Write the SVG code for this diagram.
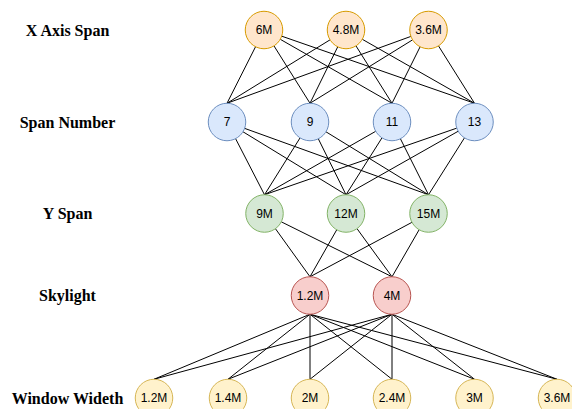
<svg xmlns="http://www.w3.org/2000/svg" width="572" height="409" viewBox="0 0 572 409">
<style>
.lbl{font-family:"Liberation Serif","Times New Roman",serif;font-weight:bold;font-size:16px;text-anchor:middle;fill:#000}
.nt{font-family:"Liberation Sans",Arial,Helvetica,sans-serif;font-size:12px;text-anchor:middle;fill:#000}
.or{fill:#ffe6cc;stroke:#d79b00}
.bl{fill:#dae8fc;stroke:#6c8ebf}
.gr{fill:#d5e8d4;stroke:#82b366}
.rd{fill:#f8cecc;stroke:#b85450}
.ye{fill:#fff2cc;stroke:#d6b656}
circle{stroke-width:1}
#edges line{stroke:#000;stroke-width:1}
</style>
<rect width="572" height="409" fill="#fff"/>
<g id="labels">
<text class="lbl" x="67.5" y="35.5">X Axis Span</text>
<text class="lbl" x="67.5" y="127.5">Span Number</text>
<text class="lbl" x="67.5" y="219">Y Span</text>
<text class="lbl" x="67.5" y="301">Skylight</text>
<text class="lbl" x="67.5" y="403.5">Window Wideth</text>
</g>
<g id="edges">
<line x1="255.55" y1="46.74" x2="227" y2="103.25"/>
<line x1="273.97" y1="45.88" x2="310" y2="103.25"/>
<line x1="280.27" y1="39.31" x2="392" y2="103.25"/>
<line x1="281.71" y1="36.16" x2="474.5" y2="103.25"/>
<line x1="330.03" y1="39.83" x2="227" y2="103.25"/>
<line x1="337.73" y1="46.83" x2="310" y2="103.25"/>
<line x1="355.97" y1="45.88" x2="392" y2="103.25"/>
<line x1="362.29" y1="39.29" x2="474.5" y2="103.25"/>
<line x1="410.88" y1="36.41" x2="227" y2="103.25"/>
<line x1="412.55" y1="39.86" x2="310" y2="103.25"/>
<line x1="420.14" y1="46.78" x2="392" y2="103.25"/>
<line x1="438.47" y1="45.88" x2="474.5" y2="103.25"/>
<line x1="235.59" y1="138.67" x2="264.5" y2="194.75"/>
<line x1="243.0" y1="131.78" x2="346" y2="194.75"/>
<line x1="244.64" y1="128.37" x2="428.5" y2="194.75"/>
<line x1="300.06" y1="137.90" x2="264.5" y2="194.75"/>
<line x1="318.32" y1="138.81" x2="346" y2="194.75"/>
<line x1="325.98" y1="131.81" x2="428.5" y2="194.75"/>
<line x1="375.72" y1="131.29" x2="264.5" y2="194.75"/>
<line x1="381.98" y1="137.85" x2="346" y2="194.75"/>
<line x1="400.41" y1="138.76" x2="428.5" y2="194.75"/>
<line x1="456.78" y1="128.14" x2="264.5" y2="194.75"/>
<line x1="458.18" y1="131.24" x2="346" y2="194.75"/>
<line x1="464.48" y1="137.85" x2="428.5" y2="194.75"/>
<line x1="275.45" y1="228.72" x2="310" y2="276.75"/>
<line x1="281.30" y1="221.83" x2="392" y2="276.75"/>
<line x1="336.73" y1="229.80" x2="310" y2="276.75"/>
<line x1="357.03" y1="228.66" x2="392" y2="276.75"/>
<line x1="411.96" y1="222.33" x2="310" y2="276.75"/>
<line x1="419.13" y1="229.74" x2="392" y2="276.75"/>
<line x1="310" y1="314.25" x2="154" y2="379.25"/>
<line x1="310" y1="314.25" x2="228" y2="379.25"/>
<line x1="310" y1="314.25" x2="310" y2="379.25"/>
<line x1="310" y1="314.25" x2="392" y2="379.25"/>
<line x1="310" y1="314.25" x2="474.5" y2="379.25"/>
<line x1="310" y1="314.25" x2="557" y2="379.25"/>
<line x1="392" y1="314.25" x2="154" y2="379.25"/>
<line x1="392" y1="314.25" x2="228" y2="379.25"/>
<line x1="392" y1="314.25" x2="310" y2="379.25"/>
<line x1="392" y1="314.25" x2="392" y2="379.25"/>
<line x1="392" y1="314.25" x2="474.5" y2="379.25"/>
<line x1="392" y1="314.25" x2="557" y2="379.25"/>
</g>
<g id="x6m"><circle class="or" cx="264" cy="30" r="18.75"/><text class="nt" x="264" y="34.3">6M</text></g>
<g id="x48m"><circle class="or" cx="346" cy="30" r="18.75"/><text class="nt" x="346" y="34.3">4.8M</text></g>
<g id="x36m"><circle class="or" cx="428.5" cy="30" r="18.75"/><text class="nt" x="428.5" y="34.3">3.6M</text></g>
<g id="s7"><circle class="bl" cx="227" cy="122" r="18.75"/><text class="nt" x="227" y="126.3">7</text></g>
<g id="s9"><circle class="bl" cx="310" cy="122" r="18.75"/><text class="nt" x="310" y="126.3">9</text></g>
<g id="s11"><circle class="bl" cx="392" cy="122" r="18.75"/><text class="nt" x="392" y="126.3">11</text></g>
<g id="s13"><circle class="bl" cx="474.5" cy="122" r="18.75"/><text class="nt" x="474.5" y="126.3">13</text></g>
<g id="y9m"><circle class="gr" cx="264.5" cy="213.5" r="18.75"/><text class="nt" x="264.5" y="217.8">9M</text></g>
<g id="y12m"><circle class="gr" cx="346" cy="213.5" r="18.75"/><text class="nt" x="346" y="217.8">12M</text></g>
<g id="y15m"><circle class="gr" cx="428.5" cy="213.5" r="18.75"/><text class="nt" x="428.5" y="217.8">15M</text></g>
<g id="k12m"><circle class="rd" cx="310" cy="295.5" r="18.75"/><text class="nt" x="310" y="299.8">1.2M</text></g>
<g id="k4m"><circle class="rd" cx="392" cy="295.5" r="18.75"/><text class="nt" x="392" y="299.8">4M</text></g>
<g id="w12m"><circle class="ye" cx="154" cy="398" r="18.75"/><text class="nt" x="154" y="402.3">1.2M</text></g>
<g id="w14m"><circle class="ye" cx="228" cy="398" r="18.75"/><text class="nt" x="228" y="402.3">1.4M</text></g>
<g id="w2m"><circle class="ye" cx="310" cy="398" r="18.75"/><text class="nt" x="310" y="402.3">2M</text></g>
<g id="w24m"><circle class="ye" cx="392" cy="398" r="18.75"/><text class="nt" x="392" y="402.3">2.4M</text></g>
<g id="w3m"><circle class="ye" cx="474.5" cy="398" r="18.75"/><text class="nt" x="474.5" y="402.3">3M</text></g>
<g id="w36m"><circle class="ye" cx="557" cy="398" r="18.75"/><text class="nt" x="557" y="402.3">3.6M</text></g>
</svg>
